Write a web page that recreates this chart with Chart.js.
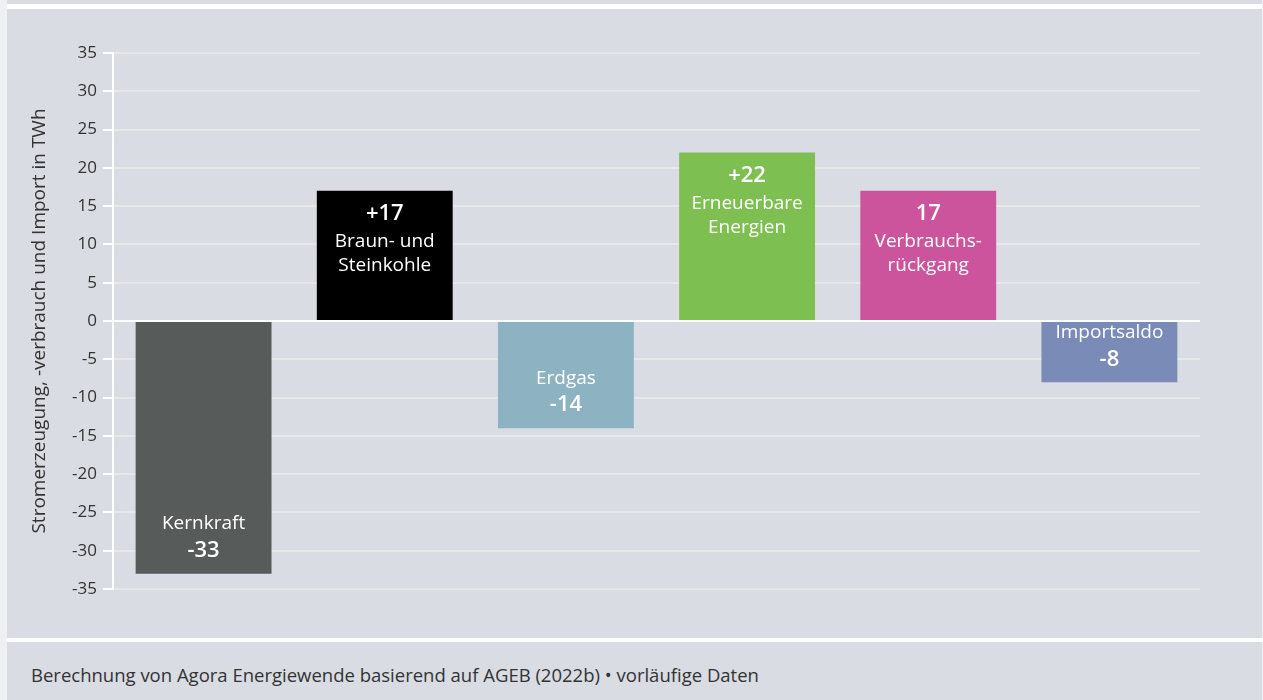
<!DOCTYPE html>
<html lang="de">
<head>
<meta charset="utf-8">
<title>Veränderung Stromerzeugung</title>
<script src="https://cdn.jsdelivr.net/npm/chart.js@4.4.1/dist/chart.umd.min.js"></script>
<style>
  html, body { margin: 0; padding: 0; }
  body { background: #eef0f3; width: 1263px; height: 700px; overflow: hidden; font-family: "Open Sans", sans-serif; }
  .frame { position: absolute; left: 7px; top: 0; width: 1255px; height: 700px; background: #d9dce3; }
  .rule { position: absolute; left: 0; width: 1255px; height: 5px; background: #ffffff; }
  .panel { position: absolute; left: 0; top: 9px; width: 1255px; height: 629px; }
  .source { position: absolute; left: 24px; top: 662px; font-size: 18.5px; color: #333; }
</style>
</head>
<body>
<div class="frame">
  <div class="rule" style="top:4px"></div>
  <div class="panel"><canvas id="chart" width="1255" height="629"></canvas></div>
  <div class="rule" style="top:638px; height:4px"></div>
  <div class="source">Berechnung von Agora Energiewende basierend auf AGEB (2022b) • vorläufige Daten</div>
</div>
<script>
// Categories, values (TWh) and bar colours
const categories = [
  ['Kernkraft'],
  ['Braun- und', 'Steinkohle'],
  ['Erdgas'],
  ['Erneuerbare', 'Energien'],
  ['Verbrauchs-', 'rückgang'],
  ['Importsaldo']
];
const values = [-33, 17, -14, 22, 17, -8];
const showPlus = [false, true, false, true, false, false];
const barColors = ['#575b59', '#000000', '#8db3c3', '#7dc051', '#cc549c', '#7a8bb8'];
const yTicks = [35, 30, 25, 20, 15, 10, 5, 0, -5, -10, -15, -20, -25, -30, -35];

const FONT = '"Open Sans", sans-serif';

// Writes value and name inside each bar, anchored at its outer end
const barText = {
  id: 'barText',
  afterDatasetsDraw(chart) {
    const ctx = chart.ctx;
    const meta = chart.getDatasetMeta(0);
    ctx.save();
    ctx.fillStyle = '#ffffff';
    ctx.textAlign = 'center';
    ctx.textBaseline = 'middle';
    meta.data.forEach((bar, i) => {
      const v = values[i];
      const valText = (showPlus[i] && v > 0 ? '+' : '') + v;
      const names = categories[i];
      const valFont = '600 22px ' + FONT;
      const nameFont = '400 19px ' + FONT;
      if (v >= 0) {
        const top = bar.y;
        ctx.font = valFont;
        ctx.fillText(valText, bar.x, top + 23);
        ctx.font = nameFont;
        names.forEach((n, k) => ctx.fillText(n, bar.x, top + 51 + k * 24));
      } else {
        const bottom = bar.y;
        ctx.font = valFont;
        ctx.fillText(valText, bar.x, bottom - 23);
        ctx.font = nameFont;
        names.forEach((n, k) => ctx.fillText(n, bar.x, bottom - 50 - (names.length - 1 - k) * 24));
      }
    });
    ctx.restore();
  }
};

new Chart(document.getElementById('chart'), {
  type: 'bar',
  data: {
    labels: categories.map(c => c.join(' ')),
    datasets: [{
      data: values,
      backgroundColor: barColors,
      borderWidth: 0,
      categoryPercentage: 1,
      barPercentage: 0.75
    }]
  },
  options: {
    responsive: false,
    animation: false,
    events: [],
    layout: { padding: { left: 0, right: 62, top: 44, bottom: 49 } },
    plugins: { legend: { display: false }, tooltip: { enabled: false } },
    scales: {
      x: { display: false },
      y: {
        min: -35,
        max: 35,
        afterFit(scale) { scale.width = 106; },
        afterBuildTicks(scale) { scale.ticks = yTicks.map(v => ({ value: v })); },
        border: { display: true, color: '#ffffff', width: 2 },
        grid: {
          color: ctx => ctx.tick && ctx.tick.value === 0 ? '#ffffff' : '#e7e8e8',
          tickColor: '#ffffff',
          lineWidth: 2,
          tickLength: 10,
          drawTicks: true
        },
        ticks: {
          color: '#333333',
          padding: 6,
          font: { family: FONT, size: 17 }
        },
        title: {
          display: true,
          text: 'Stromerzeugung, -verbrauch und Import in TWh',
          color: '#333333',
          font: { family: FONT, size: 19 },
          padding: { top: 21, bottom: 0 }
        }
      }
    }
  },
  plugins: [barText]
});
</script>
</body>
</html>
